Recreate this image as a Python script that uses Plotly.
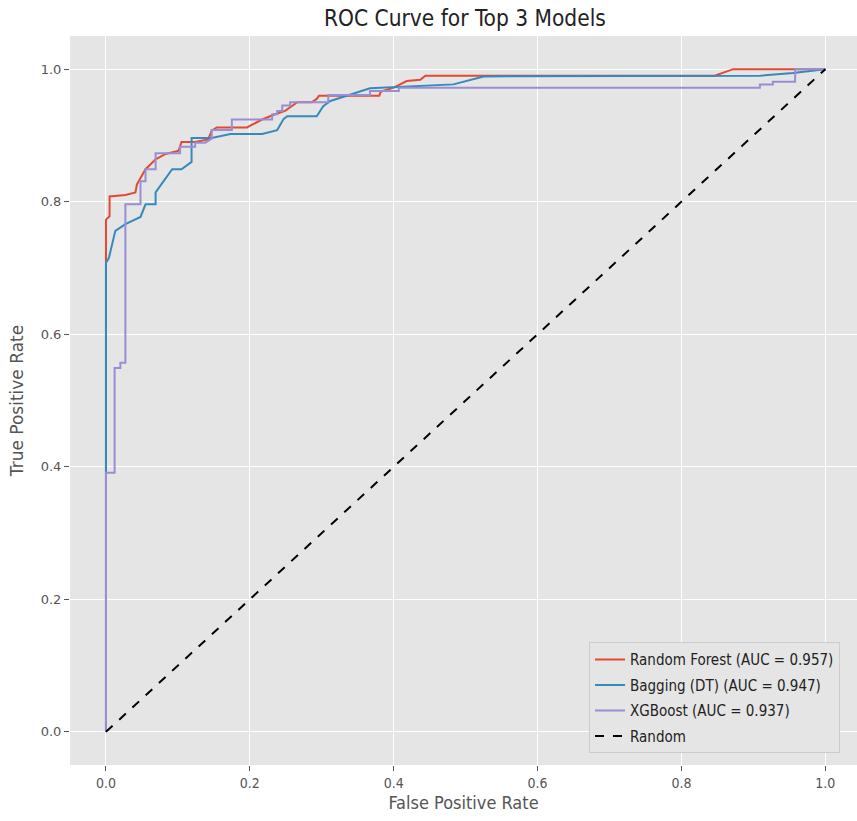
import plotly.graph_objects as go

# Random Forest ROC
rf_fpr = [0.0, 0.0, 0.005, 0.005, 0.027, 0.041, 0.043, 0.055, 0.069, 0.083, 0.101, 0.105, 0.124,
          0.142, 0.147, 0.154, 0.196, 0.217, 0.235, 0.249, 0.266, 0.286, 0.293, 0.296, 0.38, 0.382,
          0.40, 0.418, 0.437, 0.444, 0.525, 0.846, 0.872, 1.0]
rf_tpr = [0.0, 0.773, 0.778, 0.808, 0.81, 0.814, 0.826, 0.849, 0.864, 0.872, 0.877, 0.89, 0.89,
          0.894, 0.907, 0.912, 0.912, 0.924, 0.932, 0.937, 0.95, 0.95, 0.955, 0.96, 0.96, 0.966,
          0.972, 0.982, 0.984, 0.99, 0.99, 0.99, 1.0, 1.0]

# Bagging (DT) ROC
bg_fpr = [0.0, 0.0, 0.004, 0.013, 0.027, 0.048, 0.055, 0.069, 0.069, 0.083, 0.092, 0.105, 0.119,
          0.119, 0.147, 0.173, 0.217, 0.238, 0.247, 0.252, 0.293, 0.302, 0.312, 0.367, 0.404,
          0.483, 0.525, 0.909, 0.955, 1.0]
bg_tpr = [0.0, 0.708, 0.715, 0.756, 0.766, 0.777, 0.796, 0.796, 0.814, 0.836, 0.849, 0.849, 0.86,
          0.896, 0.896, 0.902, 0.902, 0.908, 0.925, 0.929, 0.929, 0.944, 0.952, 0.971, 0.973,
          0.977, 0.989, 0.99, 0.994, 1.0]

# XGBoost ROC
xg_fpr = [0.0, 0.0, 0.012, 0.012, 0.02, 0.02, 0.027, 0.027, 0.048, 0.048, 0.055, 0.055, 0.069,
          0.069, 0.103, 0.103, 0.124, 0.124, 0.138, 0.147, 0.147, 0.175, 0.175, 0.231, 0.231,
          0.238, 0.238, 0.245, 0.245, 0.256, 0.256, 0.309, 0.309, 0.367, 0.367, 0.407, 0.407,
          0.909, 0.909, 0.927, 0.927, 0.958, 0.958, 1.0]
xg_tpr = [0.0, 0.391, 0.391, 0.549, 0.549, 0.557, 0.557, 0.796, 0.796, 0.831, 0.831, 0.849, 0.849,
          0.873, 0.873, 0.883, 0.883, 0.889, 0.889, 0.895, 0.908, 0.908, 0.924, 0.924, 0.932,
          0.932, 0.937, 0.937, 0.945, 0.945, 0.95, 0.95, 0.961, 0.961, 0.967, 0.967, 0.972,
          0.972, 0.977, 0.977, 0.981, 0.981, 1.0, 1.0]

diag = [0.0, 1.0]

names = ["Random Forest (AUC = 0.957)", "Bagging (DT) (AUC = 0.947)", "XGBoost (AUC = 0.937)", "Random"]
colors = ["#E24A33", "#348ABD", "#988ED5", "black"]

FONT = "DejaVu Sans"
COND = "DejaVu Sans Condensed, DejaVu Sans"
fig = go.Figure()
series = [(rf_fpr, rf_tpr), (bg_fpr, bg_tpr), (xg_fpr, xg_tpr)]
for i, (xs, ys) in enumerate(series):
    fig.add_trace(go.Scatter(x=xs, y=ys, mode="lines", name=names[i], legendgroup=str(i),
                             line=dict(color=colors[i], width=2)))
fig.add_trace(go.Scatter(x=diag, y=diag, mode="lines", name=names[3], legendgroup="3",
                         line=dict(color=colors[3], width=2, dash="dash")))

tickvals = [0.0, 0.2, 0.4, 0.6, 0.8, 1.0]
ticktext = ["0.0", "0.2", "0.4", "0.6", "0.8", "1.0"]
axis_common = dict(showgrid=True, gridcolor="white", gridwidth=1, zeroline=False,
                   ticks="outside", ticklen=5, tickcolor="#555555", tickwidth=1,
                   tickvals=tickvals, ticktext=ticktext, showline=False, automargin=False)

fig.update_layout(
    width=857, height=821,
    margin=dict(l=70, r=0, t=36, b=56),
    paper_bgcolor="white", plot_bgcolor="#E5E5E5",
    title=dict(text="ROC Curve for Top 3 Models", x=0.5425, xanchor="center", y=0.978, yanchor="middle",
               automargin=False, font=dict(family=COND, size=22.5, color="#222222")),
    xaxis=dict(range=[-0.05, 1.044],
               tickfont=dict(family=COND, size=14, color="#555555"),
               title=dict(text="False Positive Rate", standoff=6,
                          font=dict(family=COND, size=18, color="#555555")), **axis_common),
    yaxis=dict(range=[-0.05, 1.05],
               tickfont=dict(family=FONT, size=13, color="#555555"),
               title=dict(text="True Positive Rate", standoff=12,
                          font=dict(family=FONT, size=17, color="#555555")), **axis_common),
    legend=dict(x=0.6595, y=0.016, xanchor="left", yanchor="bottom",
                bgcolor="#E5E5E5", bordercolor="#CCCCCC", borderwidth=1,
                font=dict(family=COND, size=15, color="#222222"), tracegroupgap=3),
    showlegend=True,
)

fig.write_html("out.html", config={"displayModeBar": False},
               post_script="document.body.style.margin='0';document.body.style.padding='0';")
